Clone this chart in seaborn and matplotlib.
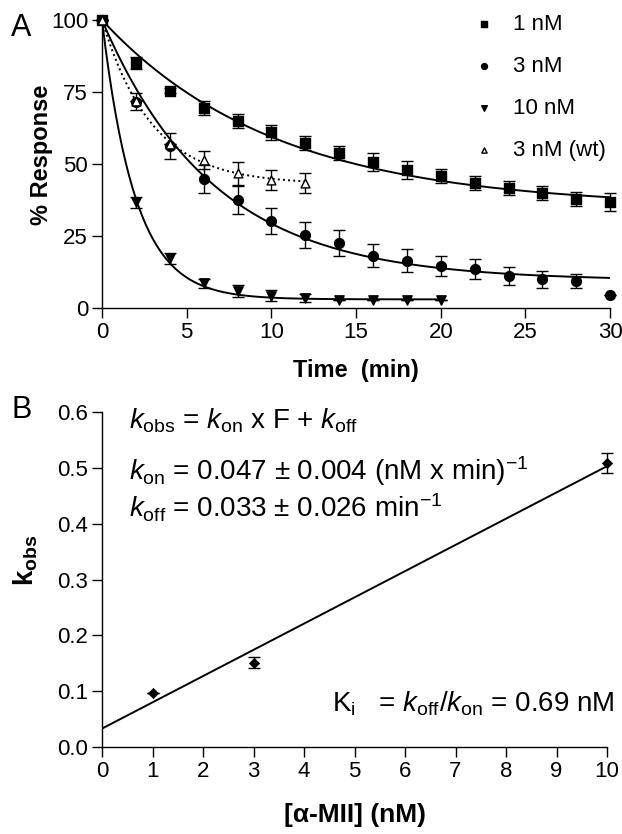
import numpy as np
import pandas as pd
import seaborn as sns
import matplotlib.pyplot as plt

sns.set_style("ticks")
plt.rcParams["font.family"] = ["Liberation Sans", "DejaVu Sans"]
plt.rcParams["mathtext.fontset"] = "custom"
plt.rcParams["mathtext.rm"] = "Liberation Sans"
plt.rcParams["mathtext.it"] = "Liberation Sans:italic"
plt.rcParams["mathtext.bf"] = "Liberation Sans:bold"
for key in ("text.color", "axes.labelcolor", "xtick.color", "ytick.color", "axes.edgecolor"):
    plt.rcParams[key] = "black"

# panel A data (% response vs time)
t_full = [0, 2, 4, 6, 8, 10, 12, 14, 16, 18, 20, 22, 24, 26, 28, 30]
resp_1nM = [100, 85, 75.5, 69.5, 65, 61, 57.3, 53.8, 50.7, 47.9, 45.8, 43.4, 41.7, 40, 37.8, 36.8]
err_1nM = [0, 2, 1, 2.5, 2.5, 2.5, 2.5, 2.5, 3, 3, 2.5, 2.5, 2.5, 2.5, 2.5, 3]
resp_3nM = [100, 71.6, 56.4, 44.8, 37.5, 30.3, 25.3, 22.5, 18.1, 16.4, 14.6, 13.4, 11.1, 10, 9.4, 4.5]
err_3nM = [0, 3, 4.5, 5, 5, 4.5, 4.5, 4.5, 4, 4, 3.5, 3.5, 3, 3, 2.5, 0]
t_10 = [0, 2, 4, 6, 8, 10, 12, 14, 16, 18, 20]
resp_10nM = [100, 36.7, 17.2, 8.6, 5.9, 4.3, 3.5, 2.8, 2.8, 2.8, 2.8]
err_10nM = [0, 2, 2, 1.5, 2, 2, 1.5, 0, 0, 0, 0]
t_wt = [0, 2, 4, 6, 8, 10, 12]
resp_wt = [100, 72, 57, 51.4, 46.8, 44.4, 43.5]
err_wt = [0, 0, 0, 3, 4, 3.5, 3.5]

# fit parameters (plateau, k, end time, style)
fits = {
    "1 nM": (35, 0.098, 30, "-"),
    "3 nM": (9.5, 0.152, 30, "-"),
    "10 nM": (3, 0.51, 20, "-"),
    "3 nM (wt)": (43, 0.34, 12, ":"),
}

# panel B data
conc = [1, 3, 10]
kobs = [0.097, 0.151, 0.509]
kobs_err = [0.0, 0.01, 0.018]
kon = 0.047
koff = 0.033

fig = plt.figure(figsize=(6.22, 8.34), dpi=100)
axA = fig.add_axes([0.164, 0.6307, 0.817, 0.3453])
axB = fig.add_axes([0.164, 0.1043, 0.812, 0.4017])

# ---- panel A
for name, (plat, k, tend, ls) in fits.items():
    tt = np.linspace(0, tend, 200)
    sns.lineplot(x=tt, y=plat + (100 - plat) * np.exp(-k * tt), ax=axA,
                 color="black", lw=1.4, linestyle=ls, zorder=2)

series = [
    ("1 nM", t_full, resp_1nM, err_1nM, "s", "black", 55),
    ("3 nM", t_full, resp_3nM, err_3nM, "o", "black", 50),
    ("10 nM", t_10, resp_10nM, err_10nM, "v", "black", 45),
    ("3 nM (wt)", t_wt, resp_wt, err_wt, "^", "white", 40),
]
for name, t, r, e, m, fc, s in series:
    axA.errorbar(t, r, yerr=e, fmt="none", ecolor="black", elinewidth=1,
                 capsize=4, capthick=1, zorder=3, clip_on=False)
    df = pd.DataFrame({"t": t, "r": r})
    sns.scatterplot(data=df, x="t", y="r", ax=axA, marker=m, s=s,
                    color=fc, edgecolor="black", linewidth=1, zorder=4,
                    clip_on=False, label=name)

axA.set_xlim(0, 30)
axA.set_ylim(0, 100)
axA.set_xticks([0, 5, 10, 15, 20, 25, 30])
axA.set_yticks([0, 25, 50, 75, 100])
axA.set_xlabel("Time  (min)", fontsize=17, fontweight="bold")
axA.set_ylabel("% Response", fontsize=17, fontweight="bold")
axA.xaxis.set_label_coords(0.5, -0.178)
axA.yaxis.set_label_coords(-0.096, 0.531)
leg = axA.legend(loc="upper left", bbox_to_anchor=(0.712, 1.053), frameon=False,
                 fontsize=16, labelspacing=0.95, handletextpad=0.8,
                 markerscale=0.6, handlelength=1.0, borderaxespad=0)

# ---- panel B
xx = np.linspace(0, 10, 50)
sns.lineplot(x=xx, y=kon * xx + koff, ax=axB, color="black", lw=1.4, zorder=2)
axB.errorbar(conc, kobs, yerr=kobs_err, fmt="none", ecolor="black",
             elinewidth=1, capsize=4, capthick=1, zorder=3, clip_on=False)
sns.scatterplot(x=conc, y=kobs, ax=axB, marker="D", s=28, color="black",
                edgecolor="black", zorder=4, clip_on=False)
axB.set_xlim(0, 10)
axB.set_ylim(0, 0.6)
axB.set_xticks(range(11))
axB.set_yticks(np.arange(0, 0.61, 0.1))
axB.set_yticklabels([f"{v:.1f}" for v in np.arange(0, 0.61, 0.1)])
axB.set_xlabel("[α-MII] (nM)", fontsize=19, fontweight="bold")
axB.set_ylabel(r"$\mathbf{k}_{\mathbf{obs}}$", fontsize=20)
axB.xaxis.set_label_coords(0.5, -0.167)
axB.yaxis.set_label_coords(-0.123, 0.558)

axB.text(0.054, 0.951, r"$k_{\rm obs}$ = $k_{\rm on}$ x F + $k_{\rm off}$",
         transform=axB.transAxes, fontsize=20, va="baseline")
axB.text(0.054, 0.796, r"$k_{\rm on}$ = 0.047 $\pm$ 0.004 (nM x min)$^{-1}$",
         transform=axB.transAxes, fontsize=20, va="baseline")
axB.text(0.054, 0.686, r"$k_{\rm off}$ = 0.033 $\pm$ 0.026 min$^{-1}$",
         transform=axB.transAxes, fontsize=20, va="baseline")
axB.text(1.015, 0.105, r"K$_{\rm i}$   = $k_{\rm off}$/$k_{\rm on}$ = 0.69 nM",
         transform=axB.transAxes, fontsize=20, ha="right", va="baseline")

for ax in (axA, axB):
    sns.despine(ax=ax)
    ax.tick_params(direction="out", length=7, width=1, labelsize=16, pad=3)
    for sp in ("left", "bottom"):
        ax.spines[sp].set_linewidth(1)
    ax.set_facecolor("white")

fig.text(0.018, 0.985, "A", fontsize=22, va="top")
fig.text(0.018, 0.4904, "B", fontsize=22, va="bottom")

fig.savefig("out.png", dpi=100, facecolor="white")
